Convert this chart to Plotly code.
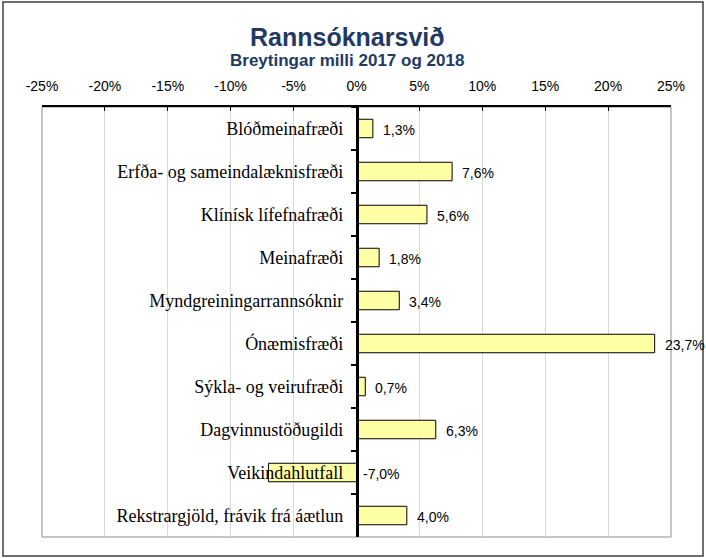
import plotly.graph_objects as go

# Chart data
categories = [
    "Blóðmeinafræði",
    "Erfða- og sameindalæknisfræði",
    "Klínísk lífefnafræði",
    "Meinafræði",
    "Myndgreiningarrannsóknir",
    "Ónæmisfræði",
    "Sýkla- og veirufræði",
    "Dagvinnustöðugildi",
    "Veikindahlutfall",
    "Rekstrargjöld, frávik frá áætlun",
]
change_pct = [1.3, 7.6, 5.6, 1.8, 3.4, 23.7, 0.7, 6.3, -7.0, 4.0]
tick_values = [-25, -20, -15, -10, -5, 0, 5, 10, 15, 20, 25]
tick_labels = ["-25%", "-20%", "-15%", "-10%", "-5%", "0%", "5%", "10%", "15%", "20%", "25%"]

title_text = "Rannsóknarsvið"
subtitle_text = "Breytingar milli 2017 og 2018"

W, H = 706, 558
M_L, M_R, M_T, M_B = 42, 35, 107, 21
PW, PH = W - M_L - M_R, H - M_T - M_B

NAVY = "#1F3A63"
SANS = "Liberation Sans, Arial, sans-serif"
SERIF = "Liberation Serif, Times New Roman, serif"


def px_x(px):
    return (px - M_L) / PW


def px_y(py):
    return 1 - (py - M_T) / PH


def fmt(v):
    return f"{v:.1f}".replace(".", ",") + "%"


fig = go.Figure(
    go.Bar(
        y=categories,
        x=change_pct,
        orientation="h",
        width=0.43,
        marker=dict(color="#FFFFA6", line=dict(color="black", width=1)),
        hoverinfo="skip",
    )
)

# value labels to the right of each bar (or of the zero line for negatives)
annotations = []
for cat, v in zip(categories, change_pct):
    annotations.append(
        dict(
            x=max(v, 0), y=cat, xref="x", yref="y",
            text=fmt(v), showarrow=False,
            xanchor="left", yanchor="middle",
            xshift=8 if v >= 0 else 4, yshift=-1,
            font=dict(family=SANS, size=14, color="black"),
        )
    )

annotations += [
    dict(x=px_x(347), y=px_y(37), xref="paper", yref="paper",
         text=f"<b>{title_text}</b>", showarrow=False,
         xanchor="center", yanchor="middle",
         font=dict(family=SANS, size=25, color=NAVY)),
    dict(x=px_x(347), y=px_y(61), xref="paper", yref="paper",
         text=f"<b>{subtitle_text}</b>", showarrow=False,
         xanchor="center", yanchor="middle",
         font=dict(family=SANS, size=17, color=NAVY)),
]

shapes = [
    # plot area border (grey sides and bottom)
    dict(type="rect", xref="paper", yref="paper", x0=0, x1=1, y0=0, y1=1,
         line=dict(color="#8C8C8C", width=1), layer="below"),
    # outer chart frame
    dict(type="rect", xref="paper", yref="paper",
         x0=px_x(3), x1=px_x(703), y0=px_y(556), y1=px_y(2),
         line=dict(color="#404040", width=1.5), layer="above"),
]

fig.update_layout(
    width=W, height=H,
    margin=dict(l=M_L, r=M_R, t=M_T, b=M_B, pad=0),
    paper_bgcolor="white", plot_bgcolor="rgba(0,0,0,0)",
    showlegend=False,
    annotations=annotations,
    shapes=shapes,
    xaxis=dict(
        side="top",
        range=[-25, 25],
        tickvals=tick_values,
        ticktext=tick_labels,
        tickfont=dict(family=SANS, size=14, color="black"),
        showgrid=True, gridcolor="#D9D9D9", gridwidth=1,
        zeroline=False,
        showline=True, linecolor="black", linewidth=2,
        ticks="inside", ticklen=4, tickcolor="black", tickwidth=1,
        ticklabelstandoff=8,
        automargin=False, fixedrange=True,
    ),
    yaxis=dict(
        anchor="free", position=0.5,
        autorange="reversed",
        showgrid=False, zeroline=False,
        showline=True, linecolor="black", linewidth=2.5,
        ticks="outside", ticklen=5, tickwidth=2, tickcolor="black",
        tickson="boundaries",
        ticklabelstandoff=9,
        tickfont=dict(family=SERIF, size=18, color="black"),
        automargin=False, fixedrange=True,
    ),
)

fig.write_html("out.html")
